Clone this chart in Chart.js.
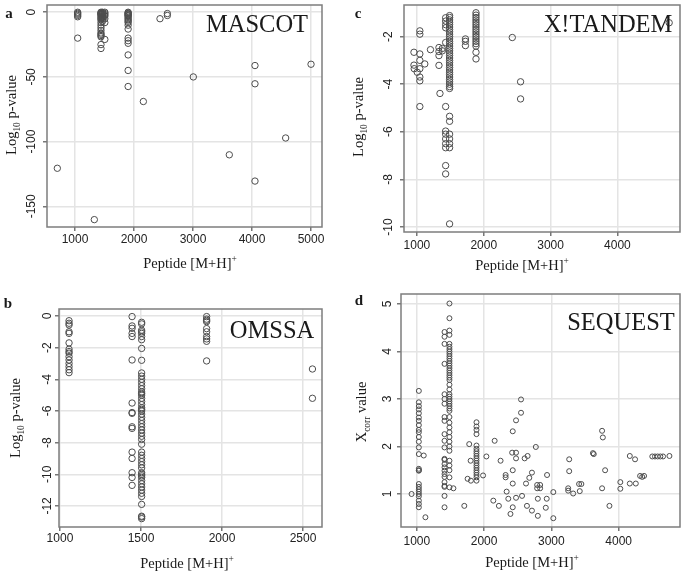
<!DOCTYPE html>
<html>
<head>
<meta charset="utf-8">
<script src="https://cdn.jsdelivr.net/npm/chart.js@4"></script>
<style>
  body { margin: 0; background: #fff; }
  #wrap { position: relative; width: 685px; height: 572px; overflow: hidden; }
  .panel { position: absolute; }
  .t { position: absolute; transform: translate(-50%, -50%); white-space: nowrap; line-height: 1;
       font-family: 'Liberation Serif', 'Times New Roman', serif; color: #1a1a1a; }
  .rot { transform: translate(-50%, -50%) rotate(-90deg); }
  .letter { font-weight: bold; font-size: 15px; }
  .name { font-size: 24.5px; }
  .axis { font-size: 14.5px; }
  sub, sup { font-size: 65%; line-height: 0; }
</style>
</head>
<body>
<div id="wrap">
  <div class="panel" style="left:0;top:0"><canvas id="chartA" width="340" height="255"></canvas></div>
  <div class="panel" style="left:340px;top:0"><canvas id="chartC" width="345" height="255"></canvas></div>
  <div class="panel" style="left:0;top:285px"><canvas id="chartB" width="340" height="287"></canvas></div>
  <div class="panel" style="left:340px;top:285px"><canvas id="chartD" width="345" height="287"></canvas></div>

  <div class="t letter" style="left:9px;top:13px">a</div>
  <div class="t letter" style="left:358px;top:13px">c</div>
  <div class="t letter" style="left:8px;top:303px">b</div>
  <div class="t letter" style="left:359px;top:300px">d</div>

  <div class="t name" style="left:257px;top:24px">MASCOT</div>
  <div class="t name" style="left:608px;top:24px">X!TANDEM</div>
  <div class="t name" style="left:272px;top:330px">OMSSA</div>
  <div class="t name" style="left:621px;top:322px">SEQUEST</div>

  <div class="t axis" style="left:190px;top:263px">Peptide [M+H]<sup>+</sup></div>
  <div class="t axis rot" style="left:11px;top:115px">Log<sub>10</sub> p-value</div>
  <div class="t axis" style="left:522px;top:265px">Peptide [M+H]<sup>+</sup></div>
  <div class="t axis rot" style="left:358px;top:117px">Log<sub>10</sub> p-value</div>
  <div class="t axis" style="left:187px;top:563px">Peptide [M+H]<sup>+</sup></div>
  <div class="t axis rot" style="left:15px;top:418px">Log<sub>10</sub> p-value</div>
  <div class="t axis" style="left:532px;top:562px">Peptide [M+H]<sup>+</sup></div>
  <div class="t axis rot" style="left:361px;top:412px">X<sub>corr</sub> value</div>
</div>

<script>
/*----------- data ------------ */
// a: MASCOT
const mascotX = [700,
  1045, 1045, 1045, 1045, 1045, 1045,
  1327,
  1440, 1440, 1440, 1440, 1440, 1440, 1440, 1440, 1440, 1440, 1440, 1440, 1440, 1440, 1440, 1440, 1440, 1440, 1440,
  1465, 1465, 1465, 1465, 1465, 1465, 1465,
  1505, 1505, 1505, 1505, 1505, 1505, 1505,
  1900, 1900, 1900, 1900, 1900, 1900, 1900, 1900, 1900, 1900, 1900, 1900, 1900, 1900, 1900, 1900, 1900, 1900, 1900, 1900,
  2158, 2440, 2565, 2565, 3005, 3615, 4050, 4050, 4050, 4570, 5000];
const mascotY = [-120.6,
  0, -0.8, -1.6, -2.5, -3.5, -20,
  -160.3,
  0, -0.5, -1, -1.5, -2, -3, -4, -5, -6, -8, -10, -12, -14, -16, -17, -18, -19, -25, -28,
  0, -1, -2, -3, -4, -5, -7,
  0, -1, -2, -3, -5, -8, -21,
  0, -0.5, -1, -1.5, -2, -2.5, -3, -4, -5, -6, -7, -8, -10, -13, -20, -22, -24, -33, -45, -57.4,
  -69, -5, -1, -2.5, -50, -110.2, -41.2, -55.3, -130.5, -97.2, -40.2];

// b: OMSSA
const omssaX = [
  1056, 1056, 1056, 1056, 1056, 1056, 1056, 1056, 1056, 1056, 1056, 1056, 1056, 1056, 1056,
  1445, 1445, 1445, 1445, 1445, 1445, 1445, 1445, 1445, 1445, 1445, 1445, 1445, 1445, 1445, 1445,
  1504, 1504, 1504, 1504, 1504, 1504, 1504, 1504, 1504, 1504, 1504, 1504, 1504, 1504, 1504, 1504, 1504, 1504,
  1504, 1504, 1504, 1504, 1504, 1504, 1504, 1504, 1504, 1504, 1504, 1504, 1504, 1504, 1504, 1504, 1504, 1504,
  1504, 1504, 1504, 1504, 1504, 1504, 1504, 1504, 1504, 1504, 1504, 1504, 1504, 1504, 1504, 1504, 1504, 1504,
  1905, 1905, 1905, 1905, 1905, 1905, 1905, 1905, 1905, 1905,
  2558, 2558];
const omssaY = [
  -0.3, -0.46, -0.57, -1.0, -1.1, -1.7, -2.1, -2.25, -2.35, -2.57, -2.78, -3.0, -3.2, -3.4, -3.58,
  -0.04, -0.63, -0.78, -1.1, -1.3, -2.78, -5.5, -6.1, -6.15, -7.0, -7.1, -8.6, -9.0, -9.9, -10.2, -10.7,
  -0.4, -0.5, -0.9, -1.0, -1.1, -1.3, -1.5, -2.05, -2.8, -3.6, -3.8, -4.0, -4.2, -4.4, -4.6, -4.8, -4.9, -5.0,
  -5.2, -5.4, -5.6, -5.8, -5.9, -6.0, -6.2, -6.4, -6.6, -6.8, -7.0, -7.2, -7.4, -7.6, -7.8, -8.1, -8.6, -8.8,
  -9.0, -9.2, -9.4, -9.6, -9.9, -10.0, -10.1, -10.2, -10.4, -10.6, -10.8, -11.0, -11.2, -11.4, -11.9, -12.65, -12.8, -12.7,
  -0.04, -0.2, -0.28, -0.36, -0.8, -1.0, -1.3, -1.45, -1.6, -2.84,
  -3.35, -5.2];

// c: X!TANDEM
const tandemX = [956, 956, 960, 1005,
  1044, 1044, 1044, 1044, 1044, 1044, 1044, 1044,
  1118, 1203, 1330, 1330, 1330, 1330, 1380, 1380, 1345,
  1430, 1430, 1430, 1430, 1430, 1430, 1430, 1430, 1430, 1430, 1430, 1430, 1430,
  1489, 1489, 1489, 1489, 1489, 1489, 1489, 1489, 1489, 1489, 1489, 1489, 1489, 1489, 1489, 1489, 1489, 1489,
  1489, 1489, 1489, 1489, 1489, 1489, 1489, 1489, 1489, 1489, 1489, 1489, 1489, 1489, 1489, 1489, 1489, 1489,
  1489, 1489, 1489,
  1726, 1726, 1726,
  1884, 1884, 1884, 1884, 1884, 1884, 1884, 1884, 1884, 1884, 1884, 1884, 1884, 1884, 1884, 1884, 1884,
  2427, 2551, 2551, 4774];
const tandemY = [-2.66, -3.2, -3.35, -3.5,
  -1.76, -1.9, -2.73, -3.0, -3.35, -3.7, -3.86, -4.94,
  -3.15, -2.55, -2.46, -2.63, -2.8, -3.21, -2.5, -2.6, -4.39,
  -1.21, -1.35, -1.5, -1.63, -2.25, -4.94, -5.97, -6.1, -6.3, -6.5, -6.67, -7.42, -7.77,
  -1.12, -1.2, -1.3, -1.4, -1.5, -1.6, -1.7, -1.8, -1.9, -2.0, -2.1, -2.2, -2.3, -2.4, -2.5, -2.6, -2.7, -2.8,
  -2.9, -3.0, -3.1, -3.2, -3.3, -3.4, -3.5, -3.6, -3.7, -3.8, -3.9, -4.0, -4.1, -4.18, -5.35, -5.56, -6.1, -6.3,
  -6.5, -6.67, -9.87,
  -2.1, -2.2, -2.38,
  -1.0, -1.1, -1.2, -1.3, -1.4, -1.5, -1.6, -1.7, -1.8, -1.9, -2.0, -2.1, -2.2, -2.3, -2.4, -2.66, -2.94,
  -2.04, -3.9, -4.62, -1.42];

// d: SEQUEST
const sequestX = [922,
  1030, 1030, 1030, 1030, 1030, 1030, 1030, 1030, 1030, 1030, 1030, 1030, 1030,
  1030, 1030, 1030, 1030, 1030, 1030, 1030, 1030, 1030, 1030, 1030, 1030, 1030,
  1103, 1128,
  1412, 1412, 1412, 1412, 1412, 1412, 1412, 1412, 1412, 1412, 1412, 1412,
  1412, 1412, 1412, 1412, 1412, 1412, 1412, 1412, 1412, 1412, 1412, 1412,
  1485, 1485, 1485, 1485, 1485, 1485, 1485, 1485, 1485, 1485, 1485, 1485, 1485, 1485, 1485,
  1485, 1485, 1485, 1485, 1485, 1485, 1485, 1485, 1485, 1485, 1485, 1485, 1485, 1485, 1485,
  1485, 1485, 1485, 1485, 1485, 1485, 1485, 1485, 1485, 1485, 1485, 1485, 1485,
  1544, 1706, 1779, 1755, 1804, 1800,
  1887, 1887, 1887, 1887, 1887, 1887, 1887, 1887, 1887, 1887, 1887, 1887, 1887, 1887, 1887, 1887, 1887, 1887, 1887,
  1985, 2034, 2157, 2137, 2220, 2245,
  2320, 2320, 2335, 2360, 2392, 2417, 2426, 2426, 2426, 2426, 2475, 2475, 2475, 2475, 2549, 2549, 2564, 2603,
  2623, 2637, 2647, 2672, 2711, 2711, 2769, 2789, 2789, 2799, 2799, 2833, 2833, 2917, 2931, 2936, 3029, 3029,
  3250, 3250, 3265, 3265, 3324, 3412, 3422, 3446, 3618, 3630, 3754, 3754, 3765, 3799, 3863, 4025, 4025,
  4166, 4166, 4244, 4255, 4319, 4350, 4378, 4500, 4540, 4580, 4620, 4660, 4755];
const sequestY = [1.0,
  3.17, 2.93, 2.85, 2.78, 2.7, 2.61, 2.54, 2.45, 2.35, 2.3, 2.2, 2.1, 1.98,
  1.84, 1.53, 1.5, 1.49, 1.21, 1.15, 1.1, 1.05, 1.0, 0.95, 0.86, 0.79, 0.72,
  1.81, 0.51,
  4.41, 4.31, 4.16, 3.74, 3.1, 3.0, 2.9, 2.62, 2.54, 2.26, 2.12, 1.98,
  1.74, 1.72, 1.63, 1.56, 1.49, 1.42, 1.36, 1.25, 1.17, 1.15, 0.96, 0.72,
  5.01, 4.7, 4.44, 4.35, 4.16, 4.1, 4.05, 4.0, 3.95, 3.9, 3.85, 3.8, 3.75, 3.7, 3.65,
  3.6, 3.55, 3.5, 3.45, 3.4, 3.3, 3.2, 3.1, 3.05, 3.0, 2.95, 2.9, 2.85, 2.8, 2.75,
  2.62, 2.5, 2.4, 2.3, 2.2, 2.1, 2.0, 1.91, 1.7, 1.6, 1.5, 1.35, 1.14,
  1.12, 0.75, 2.05, 1.32, 1.28, 1.7,
  2.51, 2.42, 2.35, 2.26, 2.02, 1.95, 1.9, 1.85, 1.8, 1.75, 1.7, 1.65, 1.6, 1.55, 1.5, 1.45, 1.4, 1.35, 1.28,
  1.39, 1.79, 2.12, 0.86, 0.75, 1.7,
  1.35, 1.4, 1.05, 0.9, 0.58, 1.87, 2.32, 1.5, 1.22, 0.72, 2.55, 1.87, 1.75, 0.92, 2.99, 2.71, 0.96, 1.75,
  1.22, 0.75, 1.8, 1.34, 1.45, 0.65, 1.99, 1.19, 1.12, 0.9, 0.54, 1.19, 1.12, 0.71, 0.9, 1.4, 1.04, 0.49,
  1.12, 1.07, 1.73, 1.48, 1.01, 1.21, 1.06, 1.21, 1.86, 1.84, 2.33, 1.12, 2.19, 1.5, 0.75, 1.25, 1.11,
  1.8, 1.22, 1.73, 1.22, 1.38, 1.36, 1.38, 1.79, 1.79, 1.79, 1.79, 1.79, 1.8];

// tick values
const xTicksA = [1000, 2000, 3000, 4000, 5000];
const yTicksA = [-150, -100, -50, 0];
const xTicksB = [1000, 1500, 2000, 2500];
const yTicksB = [-12, -10, -8, -6, -4, -2, 0];
const xTicksC = [1000, 2000, 3000, 4000];
const yTicksC = [-10, -8, -6, -4, -2];
const xTicksD = [1000, 2000, 3000, 4000];
const yTicksD = [1, 2, 3, 4, 5];

/*----------- chart ------------ */
const framePlugin = {
    id: 'frame',
    afterDraw(chart) {
        const { ctx, chartArea } = chart;
        ctx.save();
        ctx.strokeStyle = '#7d7d7d';
        ctx.lineWidth = 1.5;
        ctx.strokeRect(chartArea.left, chartArea.top, chartArea.right - chartArea.left, chartArea.bottom - chartArea.top);
        ctx.restore();
    }
};

const tickFont = { family: "'Liberation Sans', Arial, sans-serif", size: 12 };

function makePanel(id, xs, ys, p) {
    const points = xs.map((x, i) => ({ x: x, y: ys[i] }));
    return new Chart(document.getElementById(id), {
        type: 'scatter',
        data: {
            datasets: [{
                data: points,
                pointRadius: p.r,
                borderWidth: 1,
                borderColor: '#4d4d4d',
                backgroundColor: 'rgba(0,0,0,0)',
            }]
        },
        options: {
            responsive: false,
            animation: false,
            events: [],
            layout: { padding: p.pad },
            plugins: { legend: { display: false }, tooltip: { enabled: false } },
            scales: {
                x: {
                    type: 'linear',
                    min: p.xMin,
                    max: p.xMax,
                    afterBuildTicks: s => { s.ticks = p.xTicks.map(v => ({ value: v })); },
                    afterFit: s => { s.height = p.xH; s.paddingLeft = 0; s.paddingRight = 0; },
                    border: { display: false },
                    grid: { color: '#e4e4e4', lineWidth: 1.5, tickLength: 4, tickColor: '#777' },
                    ticks: { font: tickFont, color: '#222', padding: p.xPad, maxRotation: 0, autoSkip: false,
                             callback: v => String(v) }
                },
                y: {
                    type: 'linear',
                    min: p.yMin,
                    max: p.yMax,
                    afterBuildTicks: s => { s.ticks = p.yTicks.map(v => ({ value: v })); },
                    afterFit: s => { s.width = p.yW; s.paddingTop = 0; s.paddingBottom = 0; },
                    border: { display: false },
                    grid: { color: '#e4e4e4', lineWidth: 1.5, tickLength: 4, tickColor: '#777' },
                    ticks: { font: tickFont, color: '#222', padding: p.yPad, minRotation: 90, maxRotation: 90,
                             crossAlign: 'center', autoSkip: false, callback: v => String(v) }
                }
            }
        },
        plugins: [framePlugin]
    });
}

makePanel('chartA', mascotX, mascotY, {
    r: 3.2, pad: { left: 0, top: 2, right: 18, bottom: 0 }, yW: 47, xH: 28,
    xMin: 525, xMax: 5186, yMin: -166, yMax: 5.6, xTicks: xTicksA, yTicks: yTicksA, xPad: 1, yPad: -1
});
makePanel('chartB', omssaX, omssaY, {
    r: 3.2, pad: { left: 0, top: 24, right: 18, bottom: 0 }, yW: 59, xH: 45,
    xMin: 994, xMax: 2617, yMin: -13.33, yMax: 0.44, xTicks: xTicksB, yTicks: yTicksB, xPad: 0, yPad: -1
});
makePanel('chartC', tandemX, tandemY, {
    r: 3.2, pad: { left: 0, top: 2, right: 3, bottom: 0 }, yW: 64, xH: 23,
    xMin: 807, xMax: 4936, yMin: -10.21, yMax: -0.674, xTicks: xTicksC, yTicks: yTicksC, xPad: 2, yPad: 3
});
makePanel('chartD', sequestX, sequestY, {
    r: 2.5, pad: { left: 0, top: 9, right: 2, bottom: 0 }, yW: 61, xH: 45,
    xMin: 765, xMax: 4912, yMin: 0.305, yMax: 5.21, xTicks: xTicksD, yTicks: yTicksD, xPad: 3, yPad: 5.5
});
</script>
</body>
</html>
